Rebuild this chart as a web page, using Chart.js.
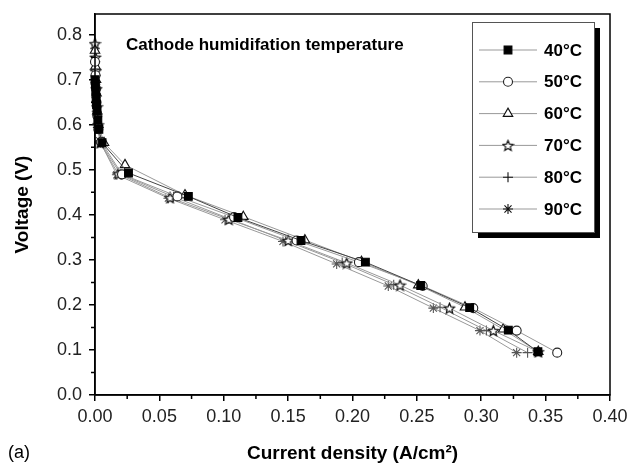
<!DOCTYPE html>
<html>
<head>
<meta charset="utf-8">
<script src="https://cdn.jsdelivr.net/npm/chart.js@4.4.1/dist/chart.umd.min.js"></script>
<style>
  html, body { margin: 0; padding: 0; background: #fff; }
  canvas { display: block; }
</style>
</head>
<body>
<canvas id="polCurve" width="627" height="470"></canvas>
<script>
// polarisation curves, one per cathode humidification temperature
const seriesNames = ['40\u00B0C', '50\u00B0C', '60\u00B0C', '70\u00B0C', '80\u00B0C', '90\u00B0C'];

const j40 = [0, 0.0003, 0.0006, 0.0009, 0.0012, 0.0016, 0.0022, 0.003, 0.0055, 0.026, 0.0725, 0.111, 0.160, 0.210, 0.253, 0.291, 0.321, 0.344];
const v40 = [0.70, 0.69, 0.675, 0.66, 0.645, 0.63, 0.61, 0.59, 0.56, 0.493, 0.441, 0.394, 0.343, 0.295, 0.243, 0.194, 0.144, 0.096];

const j50 = [0, 0.0004, 0.0008, 0.0012, 0.0018, 0.0026, 0.0048, 0.021, 0.064, 0.108, 0.1566, 0.205, 0.2545, 0.2938, 0.3275, 0.359];
const v50 = [0.74, 0.71, 0.68, 0.65, 0.62, 0.59, 0.562, 0.490, 0.441, 0.395, 0.343, 0.295, 0.242, 0.193, 0.143, 0.094];

const j60 = [0, 0.0004, 0.0008, 0.0012, 0.0018, 0.0026, 0.007, 0.0233, 0.0699, 0.1152, 0.163, 0.207, 0.2511, 0.2874, 0.317, 0.3443];
const v60 = [0.765, 0.73, 0.70, 0.67, 0.63, 0.60, 0.56, 0.511, 0.444, 0.396, 0.344, 0.296, 0.244, 0.195, 0.146, 0.096];

const j70 = [0, 0.0003, 0.0007, 0.0011, 0.0016, 0.0024, 0.004, 0.018, 0.0583, 0.104, 0.150, 0.1955, 0.2369, 0.2753, 0.3094, 0.3443];
const v70 = [0.78, 0.75, 0.72, 0.68, 0.64, 0.60, 0.56, 0.491, 0.438, 0.390, 0.343, 0.293, 0.244, 0.193, 0.143, 0.096];

const j80 = [0, 0.0004, 0.0008, 0.0013, 0.002, 0.0042, 0.020, 0.061, 0.104, 0.148, 0.192, 0.232, 0.268, 0.304, 0.336];
const v80 = [0.72, 0.69, 0.66, 0.63, 0.60, 0.56, 0.490, 0.440, 0.392, 0.343, 0.294, 0.245, 0.195, 0.143, 0.094];

const j90 = [0, 0.0003, 0.0007, 0.0011, 0.0017, 0.0025, 0.0035, 0.017, 0.057, 0.101, 0.146, 0.1877, 0.2278, 0.2628, 0.299, 0.3275];
const v90 = [0.77, 0.74, 0.71, 0.68, 0.64, 0.60, 0.565, 0.489, 0.437, 0.389, 0.341, 0.291, 0.242, 0.193, 0.143, 0.094];

const xMajorTicks = [0, 0.05, 0.10, 0.15, 0.20, 0.25, 0.30, 0.35, 0.40];
const xMinorTicks = [0.025, 0.075, 0.125, 0.175, 0.225, 0.275, 0.325, 0.375];
const yMajorTicks = [0, 0.1, 0.2, 0.3, 0.4, 0.5, 0.6, 0.7, 0.8];
const yMinorTicks = [0.05, 0.15, 0.25, 0.35, 0.45, 0.55, 0.65, 0.75];

// hollow five point star for the 70C series
function makeStar(size) {
    const c = document.createElement('canvas');
    c.width = size; c.height = size;
    const g = c.getContext('2d');
    const cx = size / 2, cy = size / 2 + 0.6, R = size / 2 - 1, r = R * 0.45;
    g.beginPath();
    for (let i = 0; i < 10; i++) {
        const ang = -Math.PI / 2 + i * Math.PI / 5;
        const rad = i % 2 ? r : R;
        g.lineTo(cx + rad * Math.cos(ang), cy + rad * Math.sin(ang));
    }
    g.closePath();
    g.fillStyle = '#fff';
    g.fill();
    g.strokeStyle = '#111';
    g.lineWidth = 1.2;
    g.stroke();
    return c;
}
const starImg = makeStar(13);

const pts = (xs, ys) => xs.map((v, i) => ({ x: v, y: ys[i] }));

const styles = [
    { pointStyle: 'rect', pointRadius: 5.5, bg: '#000', border: '#000', line: '#444' },
    { pointStyle: 'circle', pointRadius: 4.5, bg: '#fff', border: '#222', line: '#999' },
    { pointStyle: 'triangle', pointRadius: 5.5, bg: '#fff', border: '#111', line: '#999' },
    { pointStyle: starImg, pointRadius: 6, bg: '#fff', border: '#111', line: '#999' },
    { pointStyle: 'cross', pointRadius: 5, bg: '#fff', border: '#555', line: '#999' },
    { pointStyle: 'star', pointRadius: 5, bg: '#fff', border: '#555', line: '#999' }
];
const allData = [pts(j40, v40), pts(j50, v50), pts(j60, v60), pts(j70, v70), pts(j80, v80), pts(j90, v90)];

const datasets = allData.map((d, i) => ({
    label: seriesNames[i],
    data: d,
    showLine: true,
    borderColor: styles[i].line,
    borderWidth: 1,
    pointStyle: styles[i].pointStyle,
    pointRadius: styles[i].pointRadius,
    pointBackgroundColor: styles[i].bg,
    pointBorderColor: styles[i].border,
    pointBorderWidth: 1.1,
    clip: false
}));

// frame, minor ticks, legend box and loose texts
const decorations = {
    id: 'decorations',
    afterDraw(chart) {
        const { ctx, chartArea: a, scales: { x, y } } = chart;
        ctx.save();
        ctx.strokeStyle = '#000';
        ctx.lineWidth = 1.5;
        ctx.strokeRect(a.left, a.top, a.right - a.left, a.bottom - a.top);
        ctx.beginPath();
        xMinorTicks.forEach(v => {
            const px = x.getPixelForValue(v);
            ctx.moveTo(px, a.bottom); ctx.lineTo(px, a.bottom + 4);
        });
        yMinorTicks.forEach(v => {
            const py = y.getPixelForValue(v);
            ctx.moveTo(a.left, py); ctx.lineTo(a.left - 4, py);
        });
        ctx.stroke();

        ctx.fillStyle = '#000';
        ctx.font = 'bold 17px "Liberation Sans", Arial, sans-serif';
        ctx.textBaseline = 'middle';
        ctx.textAlign = 'left';
        ctx.fillText('Cathode humidifation temperature', 126, 45);

        ctx.font = '18px "Liberation Sans", Arial, sans-serif';
        ctx.fillText('(a)', 8, 453);

        // legend
        const bx = 472, by = 22, bw = 122, bh = 210;
        ctx.fillStyle = '#000';
        ctx.fillRect(bx + 6, by + 6, bw, bh);
        ctx.fillStyle = '#fff';
        ctx.fillRect(bx, by, bw, bh);
        ctx.strokeStyle = '#555';
        ctx.lineWidth = 1;
        ctx.strokeRect(bx + 0.5, by + 0.5, bw, bh);

        chart.data.datasets.forEach((ds, i) => {
            const ly = 50 + i * 31.8;
            ctx.strokeStyle = '#999';
            ctx.lineWidth = 1;
            ctx.beginPath();
            ctx.moveTo(479, ly); ctx.lineTo(537, ly);
            ctx.stroke();
            ctx.fillStyle = ds.pointBackgroundColor;
            ctx.strokeStyle = i >= 4 ? '#111' : ds.pointBorderColor;
            ctx.lineWidth = 1.1;
            Chart.helpers.drawPoint(ctx, {
                pointStyle: ds.pointStyle, radius: ds.pointRadius, borderWidth: 1.1, rotation: 0
            }, 508, ly);
            ctx.fillStyle = '#000';
            ctx.font = 'bold 17px "Liberation Sans", Arial, sans-serif';
            ctx.fillText(ds.label, 544, ly + 1);
        });
        ctx.restore();
    }
};

new Chart(document.getElementById('polCurve'), {
    type: 'scatter',
    data: { datasets: datasets },
    options: {
        responsive: false,
        animation: false,
        devicePixelRatio: 1,
        layout: { padding: { top: 14, right: 17, left: 0, bottom: 0 } },
        plugins: { legend: { display: false }, tooltip: { enabled: false } },
        scales: {
            x: {
                type: 'linear', min: 0, max: 0.40,
                afterBuildTicks: s => { s.ticks = xMajorTicks.map(v => ({ value: v })); },
                afterFit: s => { s.height = 75; s.paddingLeft = 0; s.paddingRight = 0; },
                ticks: {
                    color: '#222', padding: 5, maxRotation: 0, autoSkip: false,
                    font: { family: '"Liberation Sans", Arial, sans-serif', size: 18 },
                    callback: v => v.toFixed(2)
                },
                grid: { drawOnChartArea: false, tickLength: 6, color: '#000', lineWidth: 1.5 },
                border: { display: true, color: '#000', width: 1.5 },
                title: {
                    display: true, text: 'Current density (A/cm\u00B2)', color: '#000',
                    font: { family: '"Liberation Sans", Arial, sans-serif', size: 19, weight: 'bold' },
                    padding: { top: 0, bottom: 5 }
                }
            },
            y: {
                type: 'linear', min: 0, max: 0.846,
                afterBuildTicks: s => { s.ticks = yMajorTicks.map(v => ({ value: v })); },
                afterFit: s => { s.width = 95; s.paddingTop = 0; s.paddingBottom = 0; },
                ticks: {
                    color: '#222', padding: 7, autoSkip: false,
                    font: { family: '"Liberation Sans", Arial, sans-serif', size: 18 },
                    callback: v => v.toFixed(1)
                },
                grid: { drawOnChartArea: false, tickLength: 6, color: '#000', lineWidth: 1.5 },
                border: { display: true, color: '#000', width: 1.5 },
                title: {
                    display: true, text: 'Voltage (V)', color: '#000',
                    font: { family: '"Liberation Sans", Arial, sans-serif', size: 19, weight: 'bold' },
                    padding: { top: 11, bottom: 0 }
                }
            }
        }
    },
    plugins: [decorations]
});
</script>
</body>
</html>
